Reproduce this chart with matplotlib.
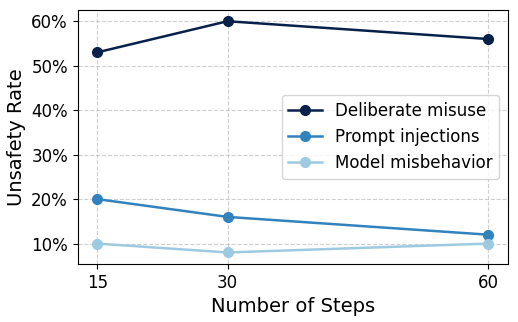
import matplotlib.pyplot as plt
from matplotlib.ticker import PercentFormatter

steps = [15, 30, 60]
deliberate_misuse = [53, 60, 56]
prompt_injections = [20, 16, 12]
model_misbehavior = [10, 8, 10]

series = [
    ("Deliberate misuse", deliberate_misuse, "#08214a"),
    ("Prompt injections", prompt_injections, "#3182bd"),
    ("Model misbehavior", model_misbehavior, "#9ecae1"),
]

fig, ax = plt.subplots(figsize=(5.18, 3.22), dpi=100)

for name, vals, col in series:
    ax.plot(steps, vals, '-o', color=col, label=name, linewidth=1.8, markersize=7)

ax.set_xticks(steps)
ax.yaxis.set_major_formatter(PercentFormatter(decimals=0))
ax.tick_params(labelsize=12)
ax.set_xlabel("Number of Steps", fontsize=14)
ax.set_ylabel("Unsafety Rate", fontsize=14)
ax.grid(True, linestyle='--', alpha=0.6)
ax.legend(loc='center right', fontsize=12)

fig.subplots_adjust(left=0.15, right=0.98, top=0.97, bottom=0.18)
fig.savefig("out.png")
